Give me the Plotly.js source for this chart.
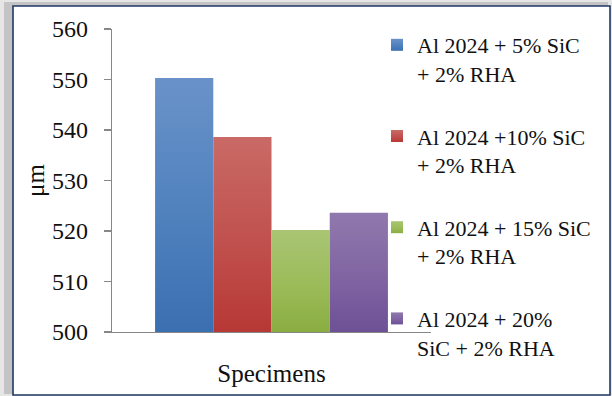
<!DOCTYPE html>
<html>
<head>
<meta charset="utf-8">
<script src="https://cdn.plot.ly/plotly-3.0.1.min.js"></script>
<style>
  html, body { margin: 0; padding: 0; background: #e6e6e6; }
  #chart { width: 612px; height: 396px; }
</style>
</head>
<body>
<div id="chart"></div>
<script>
// Grain size of Al 2024 composites (µm)
const category = ['Specimens'];
const seriesNames = [
  'Al 2024 + 5% SiC<br>+ 2% RHA',
  'Al 2024 +10% SiC<br>+ 2% RHA',
  'Al 2024 + 15% SiC<br>+ 2% RHA',
  'Al 2024 + 20%<br>SiC + 2% RHA'
];
const grainSize = [550.3, 538.6, 520.2, 523.6];
const yTicks = [500, 510, 520, 530, 540, 550, 560];

// fill colours: mid tone, light top, dark bottom
const midColors = ['#4f81bd', '#c0504d', '#9bbb59', '#8064a2'];
const topColors = ['#6a92c9', '#c96a66', '#a9c574', '#9079ad'];
const botColors = ['#3a6fb1', '#b73835', '#8aad42', '#6e5096'];

const FONT = 'Liberation Serif, DejaVu Serif, serif';

const traces = seriesNames.map((name, i) => ({
  type: 'bar',
  x: category,
  y: [grainSize[i]],
  name: name,
  legendgroup: 'g' + i,
  marker: { color: midColors[i], line: { width: 0 } },
  hoverinfo: 'skip'
}));

// plot-area box in pixels, used to place the frame and legend
const L = 112, R = 431, T = 29, B = 332, W = 612, H = 396;
const px = v => (v - L) / (R - L);
const py = v => (B - v) / (B - T);

const layout = {
  width: W, height: H,
  margin: { l: L, r: W - R, t: T, b: H - B, pad: 0 },
  paper_bgcolor: '#e6e6e6',
  plot_bgcolor: 'rgba(0,0,0,0)',
  font: { family: FONT, size: 22, color: '#111111' },
  showlegend: true,
  barmode: 'group',
  bargap: 0.27,
  bargroupgap: 0,
  xaxis: {
    type: 'category',
    range: [-0.5, 0.5],
    showticklabels: false,
    ticks: '',
    showgrid: false,
    zeroline: false,
    showline: true,
    linecolor: '#878787',
    linewidth: 1.2,
    title: { text: 'Specimens', font: { family: FONT, size: 25, color: '#111111' }, standoff: 32 },
    automargin: false
  },
  yaxis: {
    range: [500, 560],
    tickvals: yTicks,
    ticktext: yTicks.map(String),
    ticks: 'outside',
    ticklen: 7,
    tickwidth: 1.2,
    tickcolor: '#878787',
    showline: true,
    linecolor: '#878787',
    linewidth: 1.2,
    showgrid: false,
    zeroline: false,
    ticklabelstandoff: 11,
    tickfont: { family: FONT, size: 24, color: '#111111' },
    title: { text: 'μm', font: { family: FONT, size: 25, color: '#111111' }, standoff: 0 },
    automargin: false
  },
  legend: {
    x: px(377), xanchor: 'left',
    y: py(24), yanchor: 'top',
    bgcolor: 'rgba(0,0,0,0)',
    borderwidth: 0,
    traceorder: 'grouped',
    tracegroupgap: 31,
    valign: 'top',
    maxheight: 390,
    font: { family: FONT, size: 22, color: '#111111' }
  },
  shapes: [
    // soft shadow behind the frame
    { type: 'rect', layer: 'below', xref: 'paper', yref: 'paper',
      x0: px(4), x1: px(608), y0: py(394), y1: py(2),
      fillcolor: '#c4c4c4', line: { width: 0 } },
    // white chart frame with navy border
    { type: 'rect', layer: 'below', xref: 'paper', yref: 'paper',
      x0: px(13), x1: px(610), y0: py(395), y1: py(6),
      fillcolor: '#ffffff', line: { color: '#1f3864', width: 1.6 } }
  ]
};

// vertical light-to-dark shading, one gradient per filled path.
// Bars start at zero and run far below the visible axis range, so the
// gradient is stretched only over the part inside the plot area.
function shadeBars(gd) {
  const svg = gd.querySelector('svg.main-svg');
  const ns = 'http://www.w3.org/2000/svg';
  let defs = svg.querySelector('defs');
  if (!defs) { defs = document.createElementNS(ns, 'defs'); svg.insertBefore(defs, svg.firstChild); }
  const plotH = gd._fullLayout._size.h;
  let k = 0;
  const shade = (p, i, clipBottom) => {
    const bb = p.getBBox();
    const top = clipBottom ? Math.max(bb.y, 0) : bb.y;
    const bottom = clipBottom ? Math.min(bb.y + bb.height, plotH) : bb.y + bb.height;
    const g = document.createElementNS(ns, 'linearGradient');
    const id = 'barShade' + (k++);
    g.setAttribute('id', id);
    g.setAttribute('gradientUnits', 'userSpaceOnUse');
    g.setAttribute('x1', bb.x); g.setAttribute('x2', bb.x);
    g.setAttribute('y1', top); g.setAttribute('y2', bottom);
    [['0%', topColors[i]], ['55%', midColors[i]], ['100%', botColors[i]]].forEach(([o, col]) => {
      const s = document.createElementNS(ns, 'stop');
      s.setAttribute('offset', o);
      s.setAttribute('stop-color', col);
      g.appendChild(s);
    });
    defs.appendChild(g);
    p.style.fill = 'url(#' + id + ')';
  };
  gd.querySelectorAll('.barlayer .trace').forEach((tr, i) => {
    tr.querySelectorAll('path').forEach(p => shade(p, i, true));
  });
  gd.querySelectorAll('.legend .traces').forEach((tr, i) => {
    tr.querySelectorAll('.legendpoints path').forEach(p => shade(p, i, false));
  });
}

Plotly.newPlot('chart', traces, layout, { displayModeBar: false, staticPlot: true }).then(shadeBars);
</script>
</body>
</html>
